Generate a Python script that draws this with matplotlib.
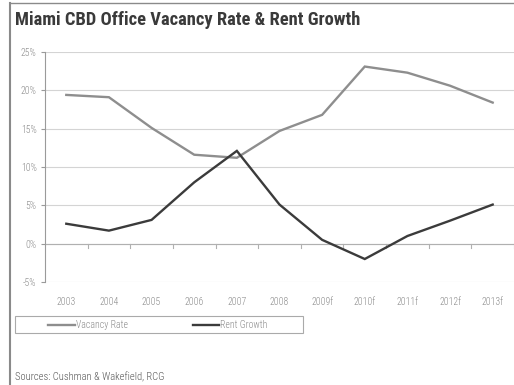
import matplotlib.pyplot as plt
from matplotlib.patches import Rectangle
from matplotlib.lines import Line2D

years = ["2003", "2004", "2005", "2006", "2007", "2008", "2009f", "2010f", "2011f", "2012f", "2013f"]
vacancy_rate = [19.4, 19.1, 15.1, 11.6, 11.2, 14.7, 16.8, 23.1, 22.3, 20.6, 18.4]
rent_growth = [2.6, 1.7, 3.1, 8.0, 12.1, 5.1, 0.5, -2.0, 1.0, 3.0, 5.1]
y_ticks = [-5, 0, 5, 10, 15, 20, 25]

narrow = ["Roboto Condensed", "DejaVu Sans"]
label_color = "#8a8a8a"

fig = plt.figure(figsize=(5.14, 3.85), dpi=100)
ax = fig.add_axes([0.0875, 0.2675, 0.9125, 0.5975])

x = list(range(len(years)))
ax.plot(x, vacancy_rate, color="#8e8e8e", lw=1.7, solid_joinstyle="miter")
ax.plot(x, rent_growth, color="#3b3b3b", lw=1.7, solid_joinstyle="miter")

ax.set_xlim(-0.5, len(years) - 0.5)
ax.set_ylim(-5, 25)
ax.set_yticks(y_ticks)
ax.set_yticklabels([f"{v}%" for v in y_ticks], family=narrow, fontsize=7, fontweight="light",
                   color=label_color)
ax.set_xticks(x)
ax.set_xticklabels(years, family=narrow, fontsize=7, fontweight="light", color=label_color)
ax.tick_params(axis="x", length=0, pad=11)
ax.tick_params(axis="y", length=3, width=0.8, color="#9a9a9a", pad=3)

for s in ["top", "right", "bottom"]:
    ax.spines[s].set_visible(False)
ax.spines["left"].set_color("#9a9a9a")
ax.spines["left"].set_linewidth(0.8)

ax.grid(axis="y", color="#d4d4d4", lw=0.8)
ax.set_axisbelow(True)

# category axis crossing at 0 with tick marks between categories
ax.axhline(0, color="#b0b0b0", lw=0.8, zorder=1)
for i in range(len(years)):
    ax.plot([i + 0.5, i + 0.5], [0, -0.5], color="#b0b0b0", lw=0.8, zorder=1)

# outer frame
fig.add_artist(Line2D([10 / 514, 10 / 514], [0, 1 - 3 / 385], transform=fig.transFigure,
                      color="#8a8a8a", lw=1.5))
fig.add_artist(Line2D([10 / 514, 1], [1 - 3 / 385, 1 - 3 / 385], transform=fig.transFigure,
                      color="#8a8a8a", lw=1.0))

fig.text(15 / 514, 1 - 20 / 385, "Miami CBD Office Vacancy Rate & Rent Growth",
         family=narrow, fontsize=13.3, fontweight="bold", color="#3a3a3a", va="center", ha="left")

# legend box
fig.add_artist(Rectangle((15 / 514, 1 - 333 / 385), 288 / 514, 17 / 385, transform=fig.transFigure,
                         fill=False, edgecolor="#aaaaaa", lw=0.8))
ly = 1 - 324.5 / 385
fig.add_artist(Line2D([48 / 514, 75 / 514], [ly, ly], transform=fig.transFigure, color="#8e8e8e", lw=1.7))
fig.text(76 / 514, ly, "Vacancy Rate", family=narrow, fontsize=7, fontweight="light",
         color=label_color, va="center")
fig.add_artist(Line2D([193 / 514, 219 / 514], [ly, ly], transform=fig.transFigure, color="#3b3b3b", lw=1.7))
fig.text(220 / 514, ly, "Rent Growth", family=narrow, fontsize=7, fontweight="light",
         color=label_color, va="center")

fig.text(15 / 514, 1 - 377 / 385, "Sources: Cushman & Wakefield, RCG", family=narrow,
         fontsize=7.6, fontweight="light", color="#555555", va="center")

plt.savefig("out.png", dpi=100)
plt.close()
